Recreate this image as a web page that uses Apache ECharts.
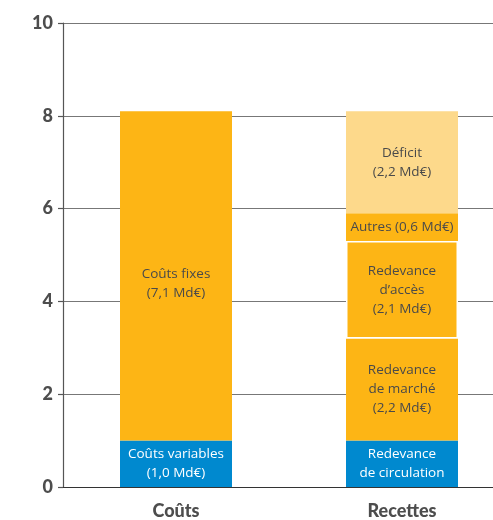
<!DOCTYPE html>
<html>
<head>
<meta charset="utf-8">
<script src="https://cdn.jsdelivr.net/npm/echarts@6/dist/echarts.min.js"></script>
<style>
  html, body { margin: 0; padding: 0; background: #fff; overflow: hidden; }
  /* the plot runs past the right edge of the window, so the gridlines reach it */
  #chart { width: 515px; height: 520px; }
</style>
</head>
<body>
<div id="chart"></div>
<script>
// Categories and segment values (Md€)
const categories = ['Coûts', 'Recettes'];
const yTicks = [0, 2, 4, 6, 8, 10];

const coutsVariables = [1.0, '-'];
const coutsFixes = [7.1, '-'];
const redevanceCirculation = ['-', 1.0];
const redevanceMarche = ['-', 2.2];
const redevanceAcces = ['-', 2.1];
const autres = ['-', 0.6];
const deficit = ['-', 2.2];

const segmentLabels = {
  coutsVariables: 'Coûts variables\n(1,0 Md€)',
  coutsFixes: 'Coûts fixes\n(7,1 Md€)',
  redevanceCirculation: 'Redevance\nde circulation',
  redevanceMarche: 'Redevance\nde marché\n(2,2 Md€)',
  redevanceAcces: 'Redevance\nd’accès\n(2,1 Md€)',
  autres: 'Autres (0,6 Md€)',
  deficit: 'Déficit\n(2,2 Md€)'
};

const ORANGE = '#FDB515';
const BLUE = '#0089CF';
const LIGHT = '#FDD98B';
const TEXT = '#4a4a4a';
const FONT = '"Open Sans", Lato, sans-serif';
const AXIS_FONT = 'Lato, "Open Sans", sans-serif';

function seg(name, data, color, textColor, extra, labelExtra) {
  return Object.assign({
    name: name,
    type: 'bar',
    stack: 'total',
    barWidth: 112,
    data: data,
    itemStyle: { color: color },
    label: Object.assign({
      show: true,
      position: 'inside',
      formatter: function (p) { return p.value === '-' ? '' : segmentLabels[name]; },
      color: textColor,
      fontFamily: FONT,
      fontSize: 13.5,
      lineHeight: 19
    }, labelExtra || {}),
    emphasis: { disabled: true }
  }, extra || {});
}

const chart = echarts.init(document.getElementById('chart'), null, { renderer: 'canvas' });
chart.setOption({
  animation: false,
  backgroundColor: '#fff',
  grid: { left: 63, right: 0, top: 23, bottom: 33, containLabel: false },
  xAxis: {
    type: 'category',
    data: categories,
    axisLine: { show: true, lineStyle: { color: '#333', width: 1.2 } },
    axisTick: { show: false },
    axisLabel: {
      margin: 15,
      color: '#4d4d4d',
      fontFamily: AXIS_FONT,
      fontWeight: 900,
      fontSize: 18
    }
  },
  yAxis: {
    type: 'value',
    min: yTicks[0],
    max: yTicks[yTicks.length - 1],
    interval: 2,
    axisLine: { show: true, lineStyle: { color: '#555', width: 1.2 } },
    axisTick: { show: true, length: 5, lineStyle: { color: '#555', width: 1.2 } },
    splitLine: { show: true, lineStyle: { color: '#777', width: 1.2 } },
    axisLabel: {
      margin: 10,
      color: '#4d4d4d',
      fontFamily: AXIS_FONT,
      fontWeight: 900,
      fontSize: 18
    }
  },
  series: [
    seg('coutsVariables', coutsVariables, BLUE, '#fff'),
    seg('coutsFixes', coutsFixes, ORANGE, TEXT, null, { offset: [0, 8] }),
    seg('redevanceCirculation', redevanceCirculation, BLUE, '#fff'),
    seg('redevanceMarche', redevanceMarche, ORANGE, TEXT),
    seg('redevanceAcces', redevanceAcces, ORANGE, TEXT, {
      itemStyle: { color: ORANGE, borderColor: '#fff', borderWidth: 1.5 }
    }),
    seg('autres', autres, ORANGE, TEXT),
    seg('deficit', deficit, LIGHT, TEXT)
  ]
});
</script>
</body>
</html>
